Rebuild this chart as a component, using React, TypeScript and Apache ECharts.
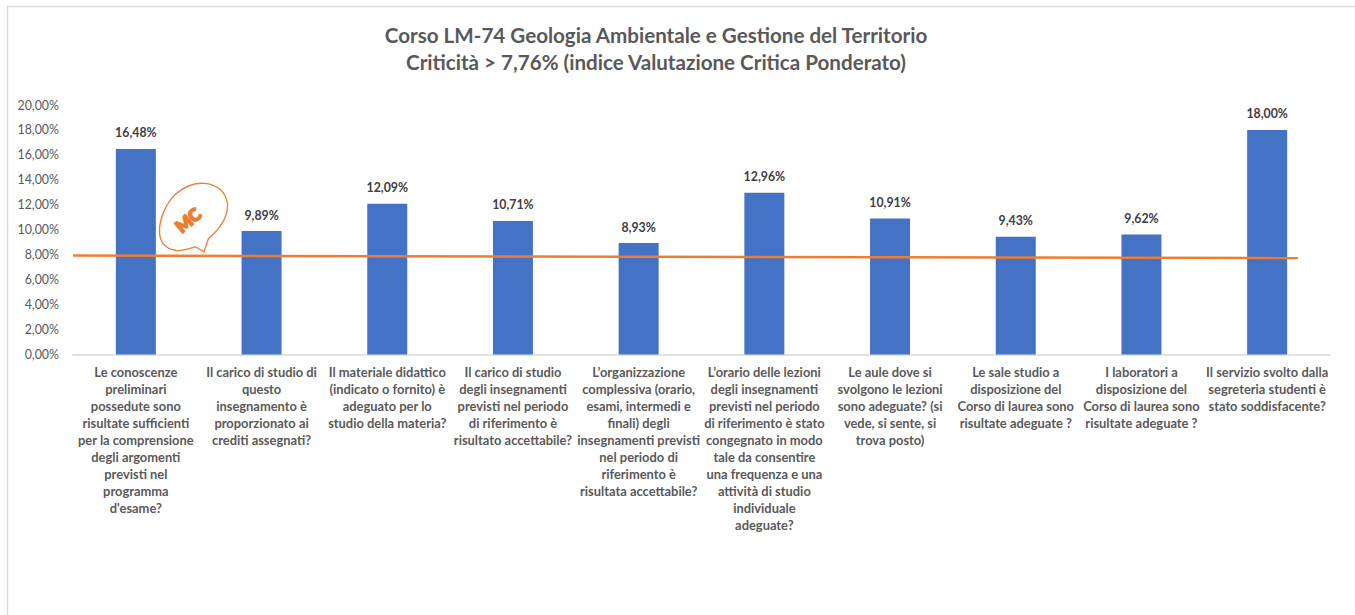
import React, { useEffect, useRef } from "react";
import * as echarts from "echarts";

const titleLines = [
  "Corso LM-74 Geologia Ambientale e Gestione del Territorio",
  "Criticità > 7,76% (indice Valutazione Critica Ponderato)",
];
const categories = [
  "Le conoscenze\npreliminari\npossedute sono\nrisultate sufficienti\nper la comprensione\ndegli argomenti\nprevisti nel\nprogramma\nd'esame?",
  "Il carico di studio di\nquesto\ninsegnamento è\nproporzionato ai\ncrediti assegnati?",
  "Il materiale didattico\n(indicato o fornito) è\nadeguato per lo\nstudio della materia?",
  "Il carico di studio\ndegli insegnamenti\nprevisti nel periodo\ndi riferimento è\nrisultato accettabile?",
  "L’organizzazione\ncomplessiva (orario,\nesami, intermedi e\nfinali) degli\ninsegnamenti previsti\nnel periodo di\nriferimento è\nrisultata accettabile?",
  "L’orario delle lezioni\ndegli insegnamenti\nprevisti nel periodo\ndi riferimento è stato\ncongegnato in modo\ntale da consentire\nuna frequenza e una\nattività di studio\nindividuale\nadeguate?",
  "Le aule dove si\nsvolgono le lezioni\nsono adeguate? (si\nvede, si sente, si\ntrova posto)",
  "Le sale studio a\ndisposizione del\nCorso di laurea sono\nrisultate adeguate ?",
  "I laboratori a\ndisposizione del\nCorso di laurea sono\nrisultate adeguate ?",
  "Il servizio svolto dalla\nsegreteria studenti è\nstato soddisfacente?",
];
const values = [16.48, 9.89, 12.09, 10.71, 8.93, 12.96, 10.91, 9.43, 9.62, 18.0];
const thresholdLine = [
  [0, 7.93],
  [9.745, 7.74],
];

const FONT = "Lato, 'Open Sans', sans-serif";
const pct = (v: number) => v.toFixed(2).replace(".", ",") + "%";
const BUBBLE =
  "M195 246.7 C188 249 182 251 176 250.5 C166 249 160 243 159.5 232 C159 220 166 202 177 193 C186 185.5 196 183 204 183.3 C216 184 226 191 227.5 204 C228.5 217 219 230 208.5 238.5 L204 251.7 Z";

export default function App() {
  const ref = useRef<HTMLDivElement>(null);
  useEffect(() => {
    if (!ref.current) return;
    echarts.graphic.registerShape("bubble", echarts.graphic.extendPath(BUBBLE, {}) as any);
    const chart = echarts.init(ref.current, undefined, { renderer: "svg" });
    chart.setOption({
      animation: false,
      backgroundColor: "#ffffff",
      textStyle: { fontFamily: FONT },
      title: {
        text: titleLines.join("\n"),
        left: 651,
        top: 16,
        textAlign: "center",
        textStyle: { fontFamily: FONT, fontSize: 20.6, fontWeight: "bold", color: "#595959", lineHeight: 27 },
      },
      grid: { left: 73, top: 105, width: 1257, height: 249.5 },
      xAxis: [
        {
          type: "category",
          data: categories,
          axisTick: { show: false },
          axisLine: { lineStyle: { color: "#D9D9D9", width: 1.5 } },
          axisLabel: {
            interval: 0,
            margin: 9.5,
            fontFamily: FONT,
            fontSize: 12.9,
            fontWeight: "bold",
            color: "#595959",
            lineHeight: 16.9,
            align: "center",
          },
        },
        { type: "value", min: 0, max: 10, show: false },
      ],
      yAxis: {
        type: "value",
        min: 0,
        max: 20,
        interval: 2,
        splitLine: { show: false },
        axisLine: { show: false },
        axisTick: { show: false },
        axisLabel: {
          formatter: (v: number) => pct(v),
          fontFamily: FONT,
          fontSize: 12.4,
          color: "#595959",
          margin: 14,
          padding: [0, 0, 1, 0],
        },
      },
      series: [
        {
          type: "bar",
          data: values,
          barWidth: 40,
          itemStyle: { color: "#4472C4" },
          label: {
            show: true,
            position: "top",
            distance: 10,
            formatter: (p: any) => pct(p.value),
            fontFamily: FONT,
            fontSize: 12.3,
            fontWeight: "bold",
            color: "#404040",
          },
        },
        {
          type: "line",
          xAxisIndex: 1,
          data: thresholdLine,
          showSymbol: false,
          symbol: "none",
          lineStyle: { color: "#ED7D31", width: 2.5 },
          z: 5,
        },
      ],
      graphic: [
        { type: "line", shape: { x1: 7, y1: 6.5, x2: 1355, y2: 6.5 }, style: { stroke: "#D9D9D9", lineWidth: 1.5 }, silent: true },
        { type: "line", shape: { x1: 7.5, y1: 6, x2: 7.5, y2: 615 }, style: { stroke: "#D9D9D9", lineWidth: 1.5 }, silent: true },
        { type: "bubble", style: { fill: "none", stroke: "#ED7D31", lineWidth: 1.3 }, silent: true },
        {
          type: "text",
          x: 188,
          y: 220,
          rotation: (40 * Math.PI) / 180,
          style: {
            text: "MC",
            fill: "#ED7D31",
            stroke: "#ED7D31",
            lineWidth: 1.8,
            fontFamily: "Lato, sans-serif",
            fontWeight: 900,
            fontSize: 17,
            textAlign: "center",
            textVerticalAlign: "middle",
          },
          silent: true,
        },
      ],
    });
    return () => chart.dispose();
  }, []);
  return <div ref={ref} style={{ position: "fixed", left: 0, top: 0, width: 1355, height: 615 }} />;
}
